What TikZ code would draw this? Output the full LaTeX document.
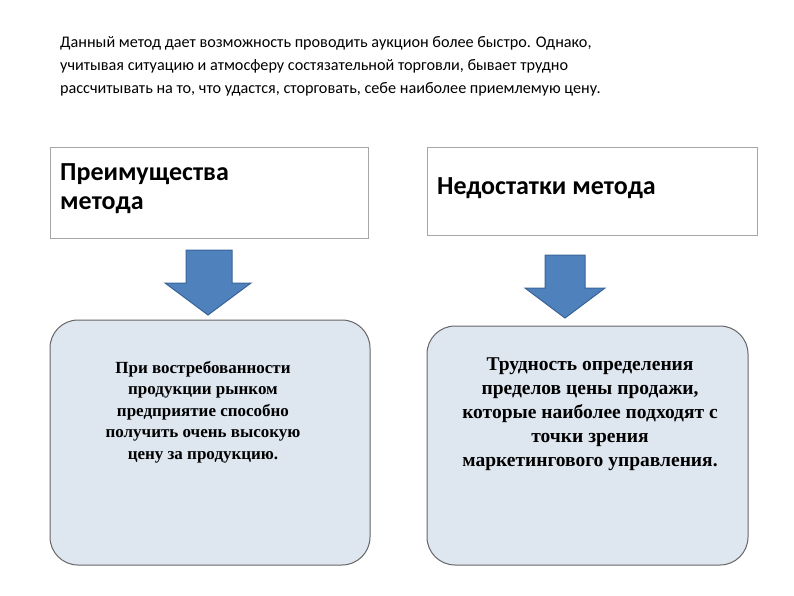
\documentclass[tikz,border=0pt]{standalone}
\usepackage{fontspec}
\setmainfont{Liberation Serif}
\newfontfamily\carlitofont{Carlito}
\begin{document}
\begin{tikzpicture}[x=1pt,y=-1pt,
  bigarrow/.style={fill=arrowblue,draw=arrowedge,line width=1pt},
  softbox/.style={draw=gray!80!black,line width=1pt,fill=boxfill,rounded corners=28pt},
  every node/.style={inner sep=0pt}]
\definecolor{arrowblue}{HTML}{4F81BD}
\definecolor{arrowedge}{HTML}{3A6496}
\definecolor{boxfill}{HTML}{DEE6F0}
\useasboundingbox (0,0) rectangle (794,595);
\node[anchor=north west,align=left,font=\carlitofont\fontsize{16.2}{23}\selectfont] (intro) at (60,36)
{Данный метод дает возможность проводить аукцион более быстро. Однако,\\
учитывая ситуацию и атмосферу состязательной торговли, бывает трудно\\
рассчитывать на то, что удастся, сторговать, себе наиболее приемлемую цену.};
\draw[draw=gray!70,line width=0.8pt] (50,147) rectangle (368,238);
\node[anchor=north west,align=left,font=\carlitofont\bfseries\fontsize{26}{29}\selectfont] (adv) at (60,163) {Преимущества\\метода};
\draw[draw=gray!70,line width=0.8pt] (427,147) rectangle (757,235);
\node[anchor=west,font=\carlitofont\bfseries\fontsize{26}{29}\selectfont] (dis) at (437,188) {Недостатки метода};
\draw[bigarrow] (186,250) -- (232,250) -- (232,283) -- (251,283) -- (208,315) -- (165,283) -- (186,283) -- cycle;
\draw[bigarrow] (545,255) -- (585,255) -- (585,288) -- (605,288) -- (565,318) -- (525,288) -- (545,288) -- cycle;
\draw[softbox] (50,320) rectangle (370,565);
\node[align=center,font=\bfseries\fontsize{17}{21.5}\selectfont] (t1) at (203,412)
{При востребованности\\продукции рынком\\предприятие способно\\получить очень высокую\\цену за продукцию.};
\draw[softbox] (427,326) rectangle (748,565);
\node[align=center,font=\bfseries\fontsize{19.5}{24}\selectfont] (t2) at (590,414)
{Трудность определения\\пределов цены продажи,\\которые наиболее подходят с\\точки зрения\\маркетингового управления.};
\end{tikzpicture}
\end{document}
